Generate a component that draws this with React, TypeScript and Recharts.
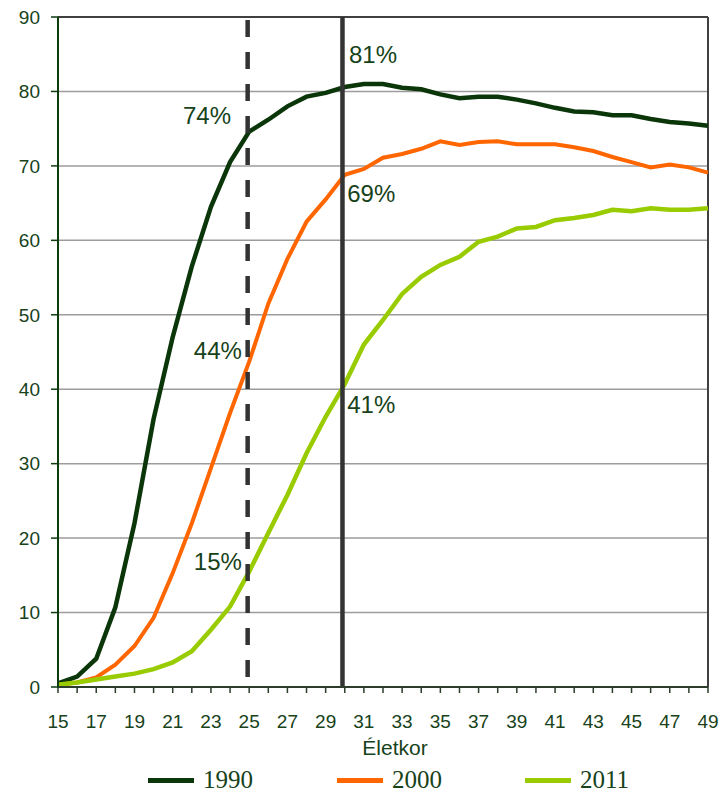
import React from 'react';
import { LineChart, Line, XAxis, YAxis, CartesianGrid, ReferenceLine, ReferenceDot, Label } from 'recharts';

const ages = [15, 16, 17, 18, 19, 20, 21, 22, 23, 24, 25, 26, 27, 28, 29, 30, 31, 32, 33, 34, 35, 36, 37, 38, 39, 40, 41, 42, 43, 44, 45, 46, 47, 48, 49];

const s1990 = [0.5, 1.4, 3.8, 10.7, 22.0, 36.0, 47.0, 56.5, 64.5, 70.5, 74.6, 76.2, 78.0, 79.3, 79.8, 80.6, 81.0, 81.0, 80.5, 80.3, 79.6, 79.1, 79.3, 79.3, 78.9, 78.4, 77.8, 77.3, 77.2, 76.8, 76.8, 76.3, 75.9, 75.7, 75.4];
const s2000 = [0.3, 0.6, 1.3, 3.0, 5.5, 9.3, 15.3, 22.0, 29.4, 36.8, 43.7, 51.5, 57.5, 62.5, 65.5, 68.8, 69.6, 71.1, 71.6, 72.3, 73.3, 72.8, 73.2, 73.3, 72.9, 72.9, 72.9, 72.5, 72.0, 71.2, 70.5, 69.8, 70.2, 69.8, 69.1];
const s2011 = [0.3, 0.6, 1.0, 1.4, 1.8, 2.4, 3.3, 4.8, 7.7, 10.8, 15.5, 20.7, 25.8, 31.4, 36.3, 40.7, 46.0, 49.3, 52.8, 55.1, 56.7, 57.8, 59.8, 60.5, 61.6, 61.8, 62.7, 63.0, 63.4, 64.1, 63.9, 64.3, 64.1, 64.1, 64.3];

const yTicks = [0, 10, 20, 30, 40, 50, 60, 70, 80, 90];
const xTicks = ages;

const seriesNames = ['1990', '2000', '2011'];
const seriesColors = ['#0a360a', '#ff6600', '#99cc00'];

// annotation labels: [text, age, value, anchor]
const annotations: [string, number, number, 'start' | 'end'][] = [
  ['74%', 24.05, 76.8, 'end'],
  ['44%', 24.62, 45.2, 'end'],
  ['15%', 24.62, 16.9, 'end'],
  ['81%', 30.22, 84.9, 'start'],
  ['69%', 30.13, 66.3, 'start'],
  ['41%', 30.13, 38.0, 'start'],
];

const dashedAge = 24.92;
const solidAge = 29.88;

const data = ages.map((a, i) => ({ age: a, y1990: s1990[i], y2000: s2000[i], y2011: s2011[i] }));

const TEXT = '#17421a';
const SANS = '"Liberation Sans", Arial, sans-serif';
const SERIF = '"Liberation Serif", "Times New Roman", serif';

const XTick = (props: any) => {
  const { x, y, payload } = props;
  if (payload.value % 2 === 0) return <g />;
  return (
    <text x={x} y={y} dy="0.71em" textAnchor="middle" fill={TEXT} fontSize={19} fontFamily={SANS}>
      {payload.value}
    </text>
  );
};

const AnnotLabel = (props: any) => {
  const { viewBox, text, anchor } = props;
  return (
    <text x={viewBox.x} y={viewBox.y} dy="0.355em" textAnchor={anchor} fill={TEXT} fontSize={24} fontFamily={SANS}>
      {text}
    </text>
  );
};

const legendX = [148, 337, 525];

export default function App() {
  return (
    <div style={{ position: 'absolute', left: 0, top: 0, width: 721, height: 794, background: '#fff' }}>
      <LineChart width={721} height={794} data={data} margin={{ top: 17, right: 13, left: 0, bottom: 0 }}>
        <CartesianGrid vertical={false} stroke="#9c9c9c" strokeWidth={1.5} />
        <XAxis
          dataKey="age"
          type="number"
          domain={[15, 49]}
          ticks={xTicks}
          interval={0}
          height={107}
          tickSize={6}
          tickMargin={21.5}
          tick={<XTick />}
          axisLine={{ stroke: '#2c3d2c', strokeWidth: 2 }}
          tickLine={{ stroke: '#2c3d2c', strokeWidth: 1.5 }}
        >
          <Label value="Életkor" position="insideBottom" offset={39} dx={12} fill={TEXT} fontSize={21} fontFamily={SANS} />
        </XAxis>
        <YAxis
          type="number"
          domain={[0, 90]}
          ticks={yTicks}
          interval={0}
          width={58}
          tickSize={7}
          tickMargin={11}
          tick={{ fill: TEXT, fontSize: 19, fontFamily: SANS }}
          axisLine={{ stroke: '#0d3d0d', strokeWidth: 2 }}
          tickLine={{ stroke: '#0d3d0d', strokeWidth: 1.5 }}
        />
        <ReferenceLine y={90} stroke="#404040" strokeWidth={2} />
        <ReferenceLine x={49} stroke="#404040" strokeWidth={2} />
        <Line type="linear" dataKey="y1990" stroke={seriesColors[0]} strokeWidth={4.5} dot={false} isAnimationActive={false} />
        <Line type="linear" dataKey="y2000" stroke={seriesColors[1]} strokeWidth={4} dot={false} isAnimationActive={false} />
        <Line type="linear" dataKey="y2011" stroke={seriesColors[2]} strokeWidth={4.5} dot={false} isAnimationActive={false} />
        <ReferenceLine x={dashedAge} stroke="#333333" strokeWidth={4.5} strokeDasharray="17 15" strokeDashoffset={-10} />
        <ReferenceLine x={solidAge} stroke="#333333" strokeWidth={4.5} />
        {annotations.map(([t, a, v, anc]) => (
          <ReferenceDot key={t} x={a} y={v} r={0} fill="none" stroke="none" label={<AnnotLabel text={t} anchor={anc} />} />
        ))}
      </LineChart>
      <svg style={{ position: 'absolute', left: 0, top: 740 }} width={721} height={54}>
        {seriesNames.map((n, i) => (
          <g key={n}>
            <line x1={legendX[i]} x2={legendX[i] + 46} y1={40.5} y2={40.5} stroke={seriesColors[i]} strokeWidth={5} />
            <text x={legendX[i] + 55} y={48} fill={TEXT} fontSize={25} fontFamily={SERIF}>
              {n}
            </text>
          </g>
        ))}
      </svg>
    </div>
  );
}
